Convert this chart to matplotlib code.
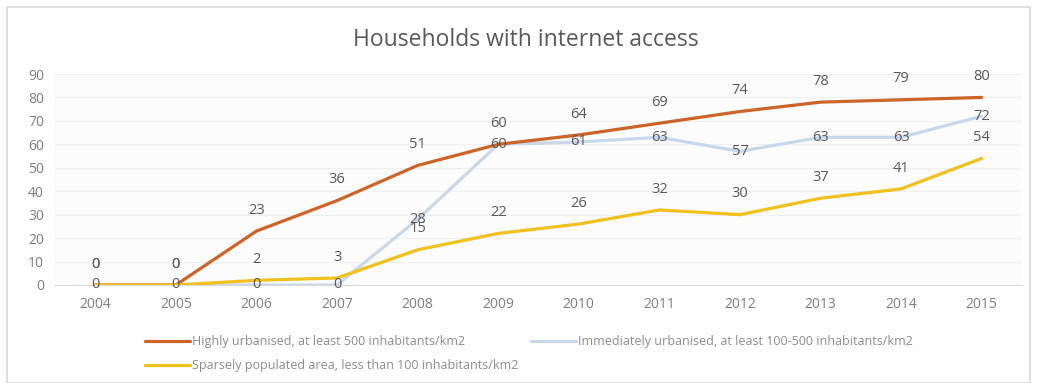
import numpy as np
import matplotlib
matplotlib.use("Agg")
import matplotlib.pyplot as plt
from matplotlib.patches import Rectangle

plt.rcParams['font.family'] = ['Open Sans', 'DejaVu Sans']

years = [2004, 2005, 2006, 2007, 2008, 2009, 2010, 2011, 2012, 2013, 2014, 2015]
highly = [0, 0, 23, 36, 51, 60, 64, 69, 74, 78, 79, 80]
intermediate = [0, 0, 0, 0, 28, 60, 61, 63, 57, 63, 63, 72]
sparse = [0, 0, 2, 3, 15, 22, 26, 32, 30, 37, 41, 54]

lab_high = 'Highly urbanised, at least 500 inhabitants/km2'
lab_mid = 'Immediately urbanised, at least 100-500 inhabitants/km2'
lab_sparse = 'Sparsely populated area, less than 100 inhabitants/km2'

c_high = '#CC6329'
c_mid = '#C9D7EA'
c_sparse = '#F0C01C'
txt = '#595959'

fig = plt.figure(figsize=(10.37, 3.83), dpi=100)
ax = fig.add_axes([55/1037, 98/383, 967/1037, 211/383])

l1, = ax.plot(years, highly, color=c_high, lw=2.3, zorder=3, solid_capstyle='round')
l2, = ax.plot(years, intermediate, color=c_mid, lw=2.3, zorder=2, solid_capstyle='round')
l3, = ax.plot(years, sparse, color=c_sparse, lw=2.3, zorder=4, solid_capstyle='round')

# labels: orange and yellow above the point, blue centred on it
for x, y in zip(years, highly):
    ax.annotate(str(y), (x, y), xytext=(0, 15), textcoords='offset points',
                ha='center', va='center', fontsize=10.5, color=txt, zorder=6)
for x, y in zip(years, sparse):
    ax.annotate(str(y), (x, y), xytext=(0, 15), textcoords='offset points',
                ha='center', va='center', fontsize=10.5, color=txt, zorder=6)
for x, y in zip(years, intermediate):
    ax.annotate(str(y), (x, y), xytext=(0, 0), textcoords='offset points',
                ha='center', va='center', fontsize=10.5, color=txt, zorder=6)

ax.set_xlim(2003.5, 2015.5)
ax.set_ylim(0, 90)
ax.set_yticks(np.arange(0, 91, 10))
ax.set_xticks(years)
ax.set_xticklabels([str(y) for y in years])
ax.tick_params(length=0, labelsize=10, labelcolor='#7F7F7F', pad=9)
ax.tick_params(axis='y', pad=8)
ax.grid(axis='y', color='#EFEFEF', lw=0.8, zorder=0)
for s in ['top', 'right', 'left']:
    ax.spines[s].set_visible(False)
ax.spines['bottom'].set_color('#D9D9D9')
ax.set_facecolor('#FCFCFC')

fig.text(526/1037, 1 - 40/383, 'Households with internet access', ha='center', va='center',
         fontsize=16.5, color=txt)

leg = fig.legend([l1, l3, l2], [lab_high, lab_sparse, lab_mid], ncol=2,
                 loc='upper left', bbox_to_anchor=(145/1037, 1 - 335/383),
                 frameon=False, fontsize=9, handlelength=3.6, handletextpad=0.15,
                 labelspacing=0.9, columnspacing=1.0, borderaxespad=0, borderpad=0)
for t in leg.get_texts():
    t.set_color('#8C8C8C')

fig.patches.append(Rectangle((7/1037, 0), 1 - 14/1037, 1 - 7/383, transform=fig.transFigure,
                             fill=False, edgecolor='#D9D9D9', lw=1.2))

fig.savefig('out.png', dpi=100)
